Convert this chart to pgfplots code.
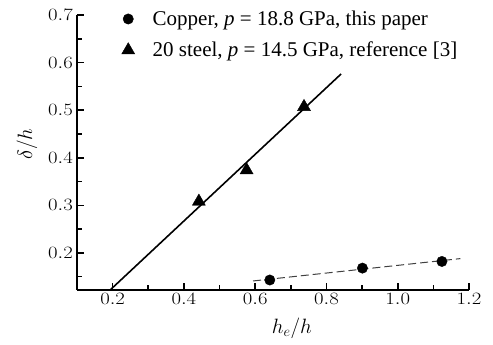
\documentclass[border=0pt]{standalone}
\usepackage{fontspec}
\setmainfont{Liberation Serif}
\usepackage{pgfplots}
\pgfplotsset{compat=1.18}
\begin{document}
\begin{tikzpicture}
\useasboundingbox (-77pt,-55pt) rectangle (416pt,290pt);
\begin{axis}[
  scale only axis, width=392pt, height=275pt,
  at={(0pt,0pt)}, anchor=south west,
  xmin=0.1, xmax=1.2, ymin=0.122, ymax=0.7,
  axis x line=bottom, axis y line=left,
  axis line style={-, line width=2pt},
  tick align=inside,
  xtick={0.2,0.4,0.6,0.8,1.0,1.2},
  minor xtick={0.3,0.5,0.7,0.9,1.1},
  ytick={0.2,0.3,0.4,0.5,0.6,0.7},
  minor ytick={0.15,0.25,0.35,0.45,0.55,0.65},
  major tick length=7pt, minor tick length=5pt,
  every tick/.style={line width=1.6pt, black},
  /pgf/number format/.cd, fixed, fixed zerofill, precision=1, /pgfplots/.cd,
  tick label style={font=\fontsize{18}{20}\selectfont, xscale=1.2},
  xlabel={$h_e/h$}, ylabel={$\delta/h$},
  label style={font=\fontsize{20}{22}\selectfont},
  xlabel style={at={(axis description cs:0.548,-0.14)}, anchor=center},
  ylabel style={at={(axis description cs:-0.128,0.53)}, anchor=center},
  legend style={at={(axis description cs:0.106,1.03)}, anchor=north west,
    draw=none, fill=none, font=\fontsize{21}{23}\selectfont, row sep=11pt,
    /tikz/every odd column/.append style={column sep=16pt}},
  legend cell align=left,
]
\addplot[forget plot, black, line width=1.6pt] coordinates {(0.193,0.122) (0.841,0.576)};
\addplot[forget plot, gray!50!black, line width=1pt, dash pattern=on 8pt off 4pt] coordinates {(0.594,0.141) (1.176,0.188)};
\addplot[only marks, mark=*, mark size=5.2pt, black] coordinates {(0.641,0.143) (0.901,0.168) (1.124,0.182)};
\addlegendentry{Copper, \textit{p} = 18.8 GPa, this paper}
\addplot[only marks, mark=triangle*, mark size=7.5pt, black] coordinates {(0.442,0.308) (0.576,0.374) (0.737,0.507)};
\addlegendentry{20 steel, \textit{p} = 14.5 GPa, reference [3]}
\end{axis}
\end{tikzpicture}
\end{document}
